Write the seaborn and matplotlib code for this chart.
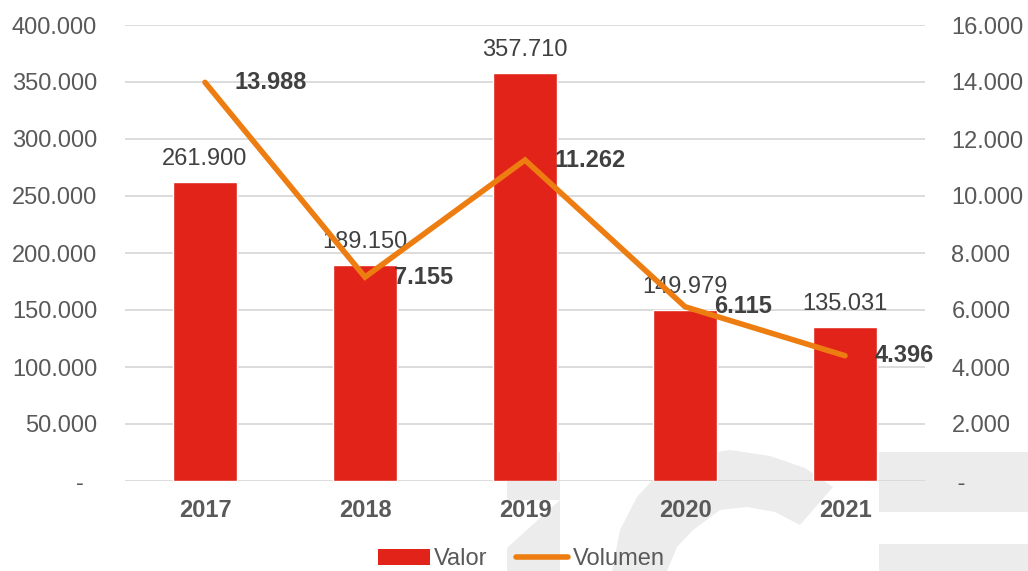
import matplotlib
matplotlib.use("Agg")
import matplotlib.pyplot as plt
import matplotlib.transforms as mtrans
from matplotlib.patches import Polygon, Patch
from matplotlib.lines import Line2D
from matplotlib.ticker import FuncFormatter
import pandas as pd
import seaborn as sns

# data
years = ["2017", "2018", "2019", "2020", "2021"]
valor = [261900, 189150, 357710, 149979, 135031]
volumen = [13988, 7155, 11262, 6115, 4396]

RED = "#E2231A"
ORANGE = "#EE7D11"
TXT = "#595959"
LBL = "#404040"
FS = 17

sns.set_theme(style="white")
plt.rcParams["font.family"] = ["Liberation Sans", "DejaVu Sans"]

fig = plt.figure(figsize=(10.28, 5.71), dpi=100)
H = 571

# light grey watermark shapes in the background (pixel coords, y from top)
def px(pts):
    return [(x, H - y) for x, y in pts]

wm = "#ececec"
shapes = [
    [(507, 452), (560, 452), (560, 500), (507, 500)],
    [(507, 548), (560, 500), (560, 571), (507, 571)],
    [(612, 571), (620, 530), (637, 497), (660, 472), (690, 456), (730, 450),
     (770, 456), (805, 468), (833, 487), (800, 525), (775, 512), (747, 507),
     (720, 510), (693, 530), (677, 547), (667, 571)],
    [(879, 452), (1028, 452), (1028, 512), (879, 512)],
    [(879, 544), (1028, 544), (1028, 571), (879, 571)],
]
for s in shapes:
    fig.add_artist(Polygon(px(s), closed=True, facecolor=wm, edgecolor="none",
                           transform=mtrans.IdentityTransform(), zorder=0))

ax = fig.add_axes([125 / 1028, 90 / 571, 800 / 1028, 456 / 571])
ax.set_facecolor("none")
df = pd.DataFrame({"year": years, "valor": valor, "volumen": volumen})

sns.barplot(data=df, x="year", y="valor", color=RED, width=0.4, saturation=1,
            ax=ax, zorder=3)
ax.set_ylim(0, 400000)
ax.set_yticks(range(0, 400001, 50000))
ax.yaxis.set_major_formatter(FuncFormatter(
    lambda v, p: "-  " if v == 0 else f"{int(v):,}".replace(",", ".")))
ax.grid(axis="y", color="#d9d9d9", linewidth=1.3, zorder=0)
ax.set_axisbelow(True)
ax.set_xlabel("")
ax.set_ylabel("")
for sp in ax.spines.values():
    sp.set_visible(False)
ax.tick_params(axis="y", length=0, pad=20, labelsize=FS, labelcolor=TXT)
ax.tick_params(axis="x", length=0, pad=13, labelsize=FS, labelcolor=TXT)
for t in ax.get_xticklabels():
    t.set_fontweight("bold")

for i, v in enumerate(valor):
    ax.annotate(f"{v:,}".replace(",", "."), (i, v), xytext=(0, 9),
                textcoords="offset points", ha="center", va="bottom",
                fontsize=FS, color=LBL)

ax2 = ax.twinx()
ax2.set_facecolor("none")
pos = list(range(len(years)))
sns.lineplot(x=pos, y=volumen, color=ORANGE, linewidth=4, ax=ax2,
             solid_capstyle="round", solid_joinstyle="miter")
ax2.set_ylim(0, 16000)
ax2.set_yticks(range(0, 16001, 2000))
ax2.yaxis.set_major_formatter(FuncFormatter(
    lambda v, p: " -" if v == 0 else f"{int(v):,}".replace(",", ".")))
ax2.tick_params(axis="y", length=0, pad=19, labelsize=FS, labelcolor=TXT)
for sp in ax2.spines.values():
    sp.set_visible(False)
ax2.grid(False)
ax2.set_xlim(-0.5, len(years) - 0.5)

for i, v in enumerate(volumen):
    ax2.annotate(f"{v:,}".replace(",", "."), (i, v), xytext=(21, 0),
                 textcoords="offset points", ha="left", va="center",
                 fontsize=FS, fontweight="bold", color=LBL)

handles = [Patch(facecolor=RED, edgecolor="none"),
           Line2D([0], [0], color=ORANGE, linewidth=4, solid_capstyle="round")]
fig.legend(handles, ["Valor", "Volumen"], loc="lower center",
           bbox_to_anchor=(0.507, -0.036), ncol=2, frameon=False,
           fontsize=FS, labelcolor=TXT, handlelength=2.2, handleheight=0.7,
           handletextpad=0.2, columnspacing=1.2)

fig.savefig("out.png", dpi=100)
